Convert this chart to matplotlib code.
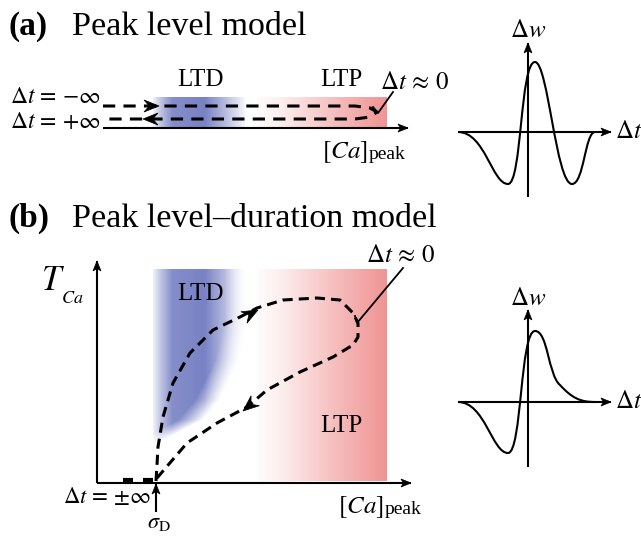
import numpy as np
import matplotlib.pyplot as plt
from matplotlib.path import Path
from matplotlib.patches import PathPatch, Polygon

plt.rcParams['font.family'] = ['Liberation Serif', 'DejaVu Serif']
plt.rcParams['mathtext.fontset'] = 'stix'

W, H = 641, 536

# colour bands: (x0, x1, y0, y1) in pixel coords of the figure
ltd_a = (153, 245, 97, 128)
ltp_a = (257, 387, 97, 128)
ltd_b = (153, 248, 269, 445)
ltp_b = (258, 387, 269, 481)
BLUE = (0.47, 0.51, 0.77)
RED = (0.94, 0.58, 0.58)

# horizontal intensity profiles
ltd_prof_x = [153, 160, 172, 205, 225, 248]
ltd_prof_a = [0.12, 0.45, 0.9, 1.0, 0.55, 0.0]
ltp_prof_x = [258, 280, 310, 340, 387]
ltp_prof_a = [0.04, 0.15, 0.4, 0.65, 1.0]

# right edge of the LTD region in (b)
ltd_edge_y = [269, 320, 360, 400, 420, 437, 445]
ltd_edge_x = [250, 250, 240, 220, 203, 170, 155]

# (a) dashed loop
loop_a_x = [103, 355, 370, 377, 370, 355, 103]
loop_a_y = [106, 106, 108, 112, 117, 119, 119]

# (b) dashed loop
loop_b_x = [156, 157, 158, 163, 173, 190, 213, 240, 257, 283, 317, 340, 353, 358,
            358, 353, 333, 300, 267, 247, 217, 187, 157]
loop_b_y = [481, 465, 447, 417, 383, 353, 330, 317, 308, 300, 298, 300, 313, 323,
            337, 345, 357, 372, 390, 407, 423, 443, 478]

# STDP windows (cubic bezier control points)
stdp_a_x = [458, 485, 492, 508, 522, 520, 535, 548, 556, 572, 584, 585, 595]
stdp_a_y = [132, 132, 184, 184, 184, 62, 62, 62, 184, 184, 184, 132, 132]
stdp_b_x = [458, 485, 492, 508, 522, 520, 535, 548, 548, 560, 572, 580, 595]
stdp_b_y = [402, 402, 453, 453, 453, 331, 331, 331, 375, 385, 398, 402, 402]

fig = plt.figure(figsize=(W / 100, H / 100), dpi=100)
ax = fig.add_axes([0, 0, 1, 1])
ax.set_xlim(0, W)
ax.set_ylim(H, 0)
renderer = fig.canvas.get_renderer()


def band(ext, color, alpha):
    x0, x1, y0, y1 = ext
    rgba = np.ones(alpha.shape + (4,))
    for i in range(3):
        rgba[..., i] = 1 - alpha * (1 - color[i])
    ax.imshow(rgba, extent=(x0, x1, y1, y0), origin='upper', aspect='auto',
              interpolation='bilinear', zorder=1)


def grid(ext):
    x0, x1, y0, y1 = ext
    xs = np.linspace(x0, x1, int(x1 - x0))
    ys = np.linspace(y0, y1, int(y1 - y0))
    return np.meshgrid(xs, ys)


def stealth(tip, angle, length, width, notch=0.35):
    d = np.array([np.cos(np.radians(angle)), np.sin(np.radians(angle))])
    n = np.array([-d[1], d[0]])
    tip = np.array(tip, float)
    back = tip - length * d
    pts = [tip, back + n * width / 2, tip - (1 - notch) * length * d, back - n * width / 2]
    ax.add_patch(Polygon(pts, closed=True, fc='k', ec='k', lw=0.5, zorder=6))


def axis_arrow(x0, y0, x1, y1, angle):
    ax.plot([x0, x1], [y0, y1], color='k', lw=1.5, zorder=4, solid_capstyle='butt')
    stealth((x1, y1), angle, 10, 8, 0.25)


def bezier(xs, ys):
    verts = list(zip(xs, ys))
    codes = [Path.MOVETO] + [Path.CURVE4] * (len(verts) - 1)
    ax.add_patch(PathPatch(Path(verts, codes), fc='none', ec='k', lw=1.5, zorder=5))


def ca_peak(x, y):
    t = ax.text(x, y, r'$[Ca]$', fontsize=18, va='baseline')
    x_end = t.get_window_extent(renderer).x1
    ax.text(x_end + 1, y + 1, 'peak', fontsize=14, va='baseline')


# ---- colour bands ----
X, Y = grid(ltd_a)
band(ltd_a, BLUE, np.interp(X, ltd_prof_x, ltd_prof_a))
X, Y = grid(ltp_a)
band(ltp_a, RED, np.interp(X, ltp_prof_x, ltp_prof_a))
X, Y = grid(ltd_b)
edge = np.interp(Y, ltd_edge_y, ltd_edge_x)
band(ltd_b, BLUE, np.interp(X, ltd_prof_x, ltd_prof_a) * np.clip((edge - X) / 25, 0, 1))
X, Y = grid(ltp_b)
band(ltp_b, RED, np.interp(X, ltp_prof_x, ltp_prof_a))

# ---- (a) peak level model ----
ax.text(8, 35, '(a)', fontsize=24, fontweight='bold', va='baseline')
ax.text(72, 35, 'Peak level model', fontsize=24.5, va='baseline')
ax.text(177, 86, 'LTD', fontsize=18, va='baseline')
ax.text(320, 86, 'LTP', fontsize=18, va='baseline')
ax.text(380, 89, r'$\Delta t\,\approx\,0$', fontsize=18, va='baseline')
ax.text(10, 103, r'$\Delta t\,=\,{-}\infty$', fontsize=17, va='baseline')
ax.text(10, 128, r'$\Delta t\,=\,{+}\infty$', fontsize=17, va='baseline')
ca_peak(322, 158)

axis_arrow(103, 128, 408, 128, 0)
ax.plot(loop_a_x, loop_a_y, color='k', lw=2.2, ls=(0, (4, 2.7)), zorder=5)
stealth((159, 106), 0, 15, 12)
stealth((143, 119), 180, 15, 12)
ax.plot([373, 378, 393], [107, 113, 92], color='k', lw=1.3, zorder=6)

# STDP window (a)
axis_arrow(458, 132, 611, 132, 0)
axis_arrow(528, 197, 528, 43, -90)
bezier(stdp_a_x, stdp_a_y)
ax.text(528, 37, r'$\Delta w$', fontsize=18, ha='center', va='baseline')
ax.text(615, 132, r'$\Delta t$', fontsize=18, va='center')

# ---- (b) peak level-duration model ----
ax.text(8, 227, '(b)', fontsize=24, fontweight='bold', va='baseline')
ax.text(72, 227, 'Peak level\u2013duration model', fontsize=24.5, va='baseline')
ax.text(177, 300, 'LTD', fontsize=18, va='baseline')
ax.text(320, 432, 'LTP', fontsize=18, va='baseline')
ax.text(366, 262, r'$\Delta t\,\approx\,0$', fontsize=18, va='baseline')
ax.text(41, 290, r'$T$', fontsize=25, va='baseline')
ax.text(61, 303, r'$Ca$', fontsize=13, va='baseline')
ax.text(151, 503, r'$\Delta t\,=\,{\pm}\infty$', fontsize=16.5, ha='right', va='baseline')
ca_peak(338, 513)
ax.text(147, 528, r'$\sigma_{\mathrm{D}}$', fontsize=16, va='baseline')

axis_arrow(97, 483, 411, 483, 0)
axis_arrow(97, 483, 97, 261, -90)
ax.plot(loop_b_x, loop_b_y, color='k', lw=2.2, ls=(0, (3.3, 2)), zorder=5)
ax.plot([123, 153], [480, 480], color='k', lw=3, ls=(0, (2.4, 2.4)), zorder=5,
        solid_capstyle='butt', dash_capstyle='butt')
stealth((258, 310), -28, 16, 13)
stealth((243, 411), 140, 16, 13)
ax.plot([355, 357, 403], [316, 323, 268], color='k', lw=1.3, zorder=6)
axis_arrow(156, 512, 156, 484, -90)

# STDP window (b)
axis_arrow(458, 402, 611, 402, 0)
axis_arrow(528, 467, 528, 310, -90)
bezier(stdp_b_x, stdp_b_y)
ax.text(528, 305, r'$\Delta w$', fontsize=18, ha='center', va='baseline')
ax.text(615, 402, r'$\Delta t$', fontsize=18, va='center')

ax.axis('off')
fig.savefig('out.png', dpi=100)
